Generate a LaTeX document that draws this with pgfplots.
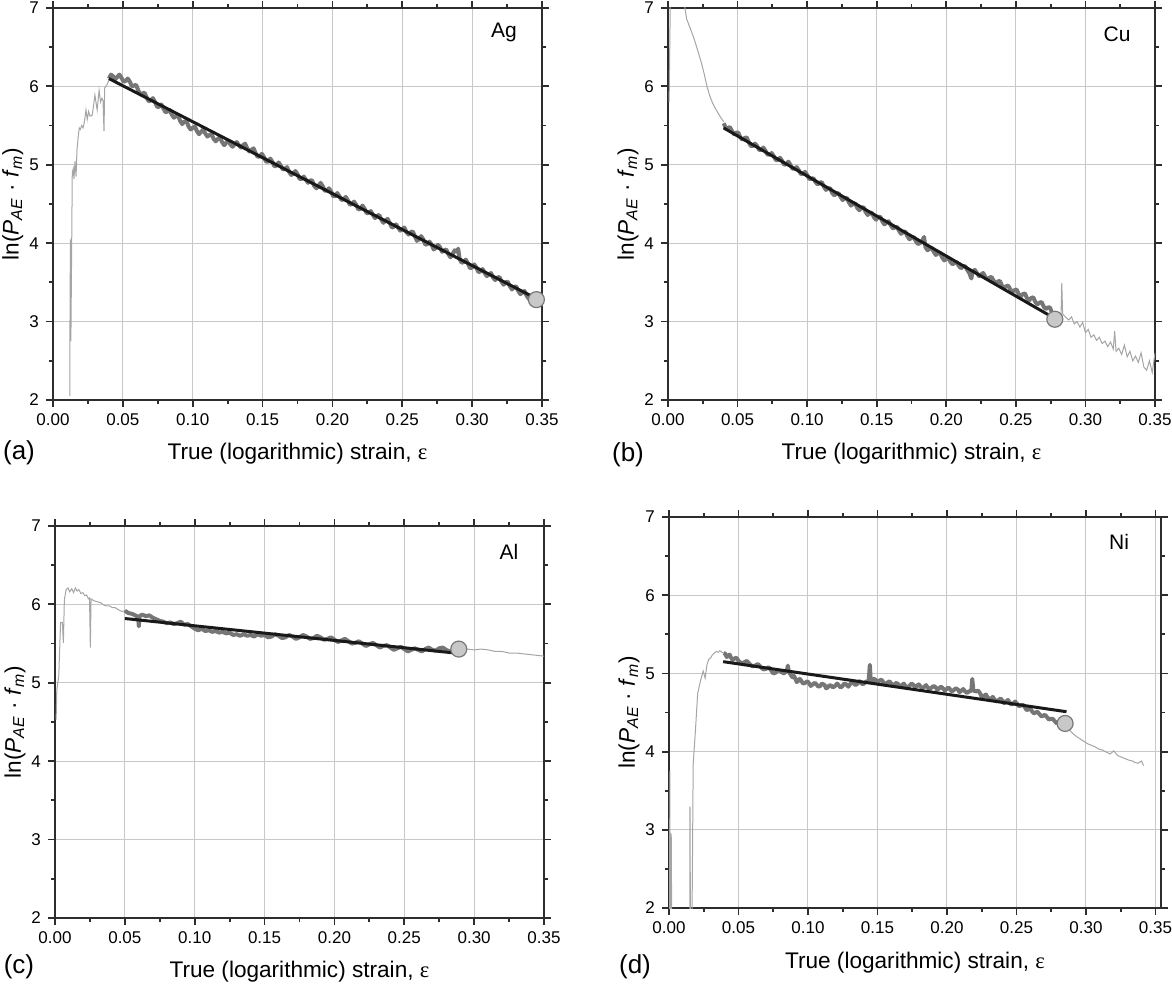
\documentclass[border=0pt]{standalone}
\usepackage{fontspec}
\setmainfont{Liberation Sans}
\newfontfamily\serifgr{Liberation Serif}
\usepackage{pgfplots}
\pgfplotsset{compat=1.18}

\definecolor{thinc}{RGB}{165,165,165}
\definecolor{thickc}{RGB}{118,118,118}
\definecolor{fitc}{RGB}{25,25,25}
\definecolor{gridc}{RGB}{200,200,200}
\definecolor{axc}{RGB}{45,45,45}
\definecolor{mfill}{RGB}{200,200,200}
\definecolor{mdraw}{RGB}{120,120,120}

\tikzset{
 letter/.style={font=\fontsize{13}{15}\selectfont},
 elem/.style={font=\fontsize{10.5}{12}\selectfont},
}

\pgfplotsset{
 panel/.style={
  scale only axis, width=244.5pt, height=196pt,
  anchor=south west,
  xmin=0, xmax=0.35, ymin=2, ymax=7,
  xtick={0,0.05,0.10,0.15,0.20,0.25,0.30,0.35}, ytick={2,3,4,5,6,7},
  minor x tick num=1, minor y tick num=1,
  tick align=outside,
  major tick length=3.5pt, minor tick length=2pt,
  grid=major, major grid style={gridc, line width=0.5pt},
  axis line style={axc, line width=0.9pt},
  every tick/.style={axc, line width=0.9pt},
  ticklabel style={font=\fontsize{8.5}{10}\selectfont},
  /pgf/number format/assume math mode=true,
  xticklabel style={/pgf/number format/.cd, fixed, fixed zerofill, precision=2},
  yticklabel style={/pgf/number format/.cd, fixed, precision=0},
  label style={font=\fontsize{11.3}{13}\selectfont},
  xlabel={True (logarithmic) strain, {\serifgr ε}},
  ylabel={ln(\textit{P}\textsubscript{\textit{AE}} · \textit{f}\textsubscript{\textit{m}})},
  xlabel style={at={(axis description cs:0.5,-0.138)}, anchor=center},
  ylabel style={at={(axis description cs:-0.082,0.5)}, anchor=center},
  clip mode=individual,
 },
 thinp/.style={thinc, line width=0.5pt},
 thickp/.style={thickc, line width=2pt, line join=round},
 fitp/.style={fitc, line width=1.5pt},
 endp/.style={only marks, mark=*, mark size=4pt, mark options={fill=mfill, draw=mdraw, line width=0.6pt}},
}

\begin{document}
\begin{tikzpicture}
\path[use as bounding box] (0,0) rectangle (586pt,492.5pt);

% ---------------- (a) Ag ----------------
\begin{axis}[panel, at={(26.5pt,292.5pt)}]
\addplot[thinp] coordinates {
(0.0120,2.05)(0.0122,3.2)(0.0125,4.05)(0.0128,2.75)(0.0132,3.6)(0.0138,4.9)(0.0145,4.95)(0.0150,4.82)
(0.0158,5.05)(0.0165,4.85)(0.0172,5.2)(0.0180,5.35)(0.0188,5.47)(0.0195,5.45)(0.0205,5.5)(0.0215,5.47)
(0.0225,5.55)(0.0236,5.7)(0.0245,5.58)(0.0255,5.68)(0.0265,5.62)(0.0280,5.63)(0.0290,5.75)(0.0300,5.89)
(0.0316,5.7)(0.0330,5.95)(0.0340,5.8)(0.0350,5.85)(0.0358,5.82)(0.0365,5.43)(0.0370,5.98)(0.0386,6.02)(0.0400,6.08)};
\addplot[thickp] coordinates {
(0.040,6.10)(0.0415,6.15)(0.043,6.13)(0.0445,6.09)(0.046,6.12)(0.0475,6.15)(0.049,6.11)(0.0505,6.06)
(0.052,6.07)(0.0535,6.10)(0.055,6.06)(0.0565,6.00)(0.058,6.01)(0.0595,6.02)(0.061,5.95)(0.0625,5.90)
(0.064,5.91)(0.0655,5.92)(0.067,5.86)(0.0685,5.81)(0.070,5.82)(0.0715,5.85)(0.073,5.80)(0.0745,5.74)
(0.076,5.74)(0.0775,5.77)(0.079,5.72)(0.0805,5.67)(0.082,5.68)(0.0835,5.70)(0.085,5.64)(0.0865,5.60)
(0.088,5.62)(0.0895,5.63)(0.091,5.56)(0.0925,5.52)(0.094,5.55)(0.0955,5.56)(0.097,5.49)(0.0985,5.45)
(0.100,5.47)(0.1015,5.49)(0.103,5.43)(0.1045,5.39)(0.106,5.42)(0.1075,5.45)(0.109,5.40)(0.1105,5.36)
(0.112,5.38)(0.1135,5.39)(0.115,5.33)(0.1165,5.30)(0.118,5.33)(0.1195,5.35)(0.121,5.29)(0.1225,5.25)
(0.124,5.28)(0.1255,5.31)(0.127,5.26)(0.1285,5.23)(0.130,5.26)(0.1315,5.29)(0.133,5.25)(0.1345,5.22)
(0.136,5.25)(0.1375,5.27)(0.139,5.21)(0.1405,5.17)(0.142,5.19)(0.1435,5.21)(0.145,5.15)(0.1465,5.10)
(0.148,5.11)(0.1495,5.14)(0.151,5.10)(0.1525,5.04)(0.154,5.04)(0.1555,5.08)(0.157,5.04)(0.1585,4.98)
(0.160,4.99)(0.1615,5.03)(0.163,4.99)(0.1645,4.94)(0.166,4.95)(0.1675,4.97)(0.169,4.91)(0.1705,4.87)
(0.172,4.89)(0.1735,4.92)(0.175,4.88)(0.1765,4.82)(0.178,4.82)(0.1795,4.85)(0.181,4.81)(0.1825,4.77)
(0.184,4.80)(0.1855,4.80)(0.187,4.73)(0.1885,4.70)(0.190,4.73)(0.1915,4.77)(0.193,4.73)(0.1945,4.67)
(0.196,4.67)(0.1975,4.70)(0.199,4.66)(0.2005,4.60)(0.202,4.60)(0.2035,4.64)(0.205,4.60)(0.2065,4.55)
(0.208,4.56)(0.2095,4.59)(0.211,4.55)(0.2125,4.49)(0.214,4.50)(0.2155,4.53)(0.217,4.49)(0.2185,4.43)
(0.220,4.44)(0.2215,4.48)(0.223,4.44)(0.2245,4.38)(0.226,4.39)(0.2275,4.41)(0.229,4.36)(0.2305,4.32)
(0.232,4.35)(0.2335,4.36)(0.235,4.30)(0.2365,4.26)(0.238,4.29)(0.2395,4.31)(0.241,4.26)(0.2425,4.20)
(0.244,4.21)(0.2455,4.24)(0.247,4.20)(0.2485,4.16)(0.250,4.18)(0.2515,4.20)(0.253,4.14)(0.2545,4.11)
(0.256,4.14)(0.2575,4.15)(0.259,4.09)(0.2605,4.03)(0.262,4.05)(0.2635,4.09)(0.265,4.05)(0.2665,3.98)
(0.268,3.99)(0.2695,4.02)(0.271,3.98)(0.2725,3.92)(0.274,3.94)(0.2755,3.98)(0.277,3.95)(0.2785,3.89)
(0.280,3.91)(0.2815,3.92)(0.283,3.86)(0.2845,3.82)(0.286,3.86)(0.2875,3.91)(0.289,3.89)(0.290,3.93)
(0.291,3.80)(0.2925,3.75)(0.294,3.76)(0.2955,3.79)(0.297,3.74)(0.2985,3.68)(0.300,3.69)(0.3015,3.73)
(0.303,3.69)(0.3045,3.63)(0.306,3.64)(0.3075,3.67)(0.309,3.62)(0.3105,3.58)(0.312,3.60)(0.3135,3.62)
(0.315,3.56)(0.3165,3.53)(0.318,3.56)(0.3195,3.57)(0.321,3.51)(0.3225,3.47)(0.324,3.50)(0.3255,3.51)
(0.327,3.45)(0.3285,3.41)(0.330,3.44)(0.3315,3.45)(0.333,3.39)(0.3345,3.35)(0.336,3.37)(0.3375,3.39)
(0.339,3.33)(0.3405,3.29)(0.342,3.31)(0.3435,3.33)(0.345,3.29)};
\addplot[fitp] coordinates {(0.040,6.10)(0.342,3.33)};
\addplot[endp] coordinates {(0.346,3.28)};
\node[elem] at (rel axis cs:1,1) [xshift=-19pt, yshift=-12pt] {Ag};
\node[letter] at (rel axis cs:0,0) [xshift=-17pt, yshift=-26.5pt] {(a)};
\end{axis}

% ---------------- (b) Cu ----------------
\begin{axis}[panel, at={(334pt,292.5pt)}, width=243.5pt]
\addplot[thinp] coordinates {
(0.0008,5.8)(0.0012,6.4)(0.0016,7.0)(0.002,7.5)(0.005,7.8)(0.009,7.4)(0.0120,7.02)(0.0134,6.86)
(0.0160,6.74)(0.0187,6.61)(0.0215,6.45)(0.0240,6.30)(0.0260,6.16)(0.0280,6.00)(0.0300,5.88)
(0.0320,5.79)(0.0340,5.72)(0.0360,5.66)(0.0380,5.60)(0.0400,5.55)};
\addplot[thickp] coordinates {
(0.040,5.53)(0.0415,5.47)(0.043,5.47)(0.0445,5.48)(0.046,5.43)(0.0475,5.39)(0.049,5.41)(0.0505,5.41)
(0.052,5.35)(0.0535,5.32)(0.055,5.34)(0.0565,5.35)(0.058,5.29)(0.0595,5.24)(0.061,5.24)(0.0625,5.27)
(0.064,5.24)(0.0655,5.19)(0.067,5.19)(0.0685,5.22)(0.070,5.18)(0.0715,5.13)(0.073,5.13)(0.0745,5.15)
(0.076,5.11)(0.0775,5.06)(0.079,5.06)(0.0805,5.09)(0.082,5.05)(0.0835,5.00)(0.085,5.01)(0.0865,5.04)
(0.088,5.00)(0.0895,4.95)(0.091,4.95)(0.0925,4.97)(0.094,4.93)(0.0955,4.88)(0.097,4.89)(0.0985,4.91)
(0.100,4.87)(0.1015,4.82)(0.103,4.82)(0.1045,4.83)(0.106,4.78)(0.1075,4.75)(0.109,4.77)(0.1105,4.78)
(0.112,4.72)(0.1135,4.68)(0.115,4.70)(0.1165,4.70)(0.118,4.64)(0.1195,4.61)(0.121,4.63)(0.1225,4.64)
(0.124,4.59)(0.1255,4.55)(0.127,4.57)(0.1285,4.58)(0.130,4.52)(0.1315,4.48)(0.133,4.50)(0.1345,4.51)
(0.136,4.45)(0.1375,4.42)(0.139,4.45)(0.1405,4.46)(0.142,4.40)(0.1435,4.36)(0.145,4.38)(0.1465,4.39)
(0.148,4.33)(0.1495,4.30)(0.151,4.33)(0.1525,4.34)(0.154,4.28)(0.1555,4.24)(0.157,4.26)(0.1585,4.28)
(0.160,4.23)(0.1615,4.19)(0.163,4.20)(0.1645,4.21)(0.166,4.16)(0.1675,4.12)(0.169,4.14)(0.1705,4.15)
(0.172,4.09)(0.1735,4.05)(0.175,4.07)(0.1765,4.08)(0.178,4.03)(0.1795,3.99)(0.181,4.00)(0.1825,4.02)
(0.184,4.08)(0.185,3.95)(0.1865,3.91)(0.188,3.93)(0.1895,3.94)(0.191,3.89)(0.1925,3.85)(0.194,3.87)
(0.1955,3.88)(0.197,3.82)(0.1985,3.78)(0.200,3.80)(0.2015,3.81)(0.203,3.76)(0.2045,3.73)(0.206,3.75)
(0.2075,3.76)(0.209,3.71)(0.2105,3.68)(0.212,3.70)(0.2135,3.71)(0.215,3.66)(0.2165,3.62)(0.218,3.55)
(0.219,3.64)(0.2205,3.66)(0.222,3.62)(0.2235,3.58)(0.225,3.60)(0.2265,3.62)(0.228,3.57)(0.2295,3.54)
(0.231,3.56)(0.2325,3.57)(0.234,3.52)(0.2355,3.49)(0.237,3.51)(0.2385,3.52)(0.240,3.46)(0.2415,3.43)
(0.243,3.45)(0.2445,3.46)(0.246,3.41)(0.2475,3.38)(0.249,3.40)(0.2505,3.41)(0.252,3.35)(0.2535,3.32)
(0.255,3.35)(0.2565,3.36)(0.258,3.30)(0.2595,3.27)(0.261,3.30)(0.2625,3.31)(0.264,3.25)(0.2655,3.22)
(0.267,3.24)(0.2685,3.25)(0.270,3.19)(0.2715,3.16)(0.273,3.18)(0.2745,3.18)(0.276,3.11)(0.278,3.04)};
\addplot[thinp] coordinates {
(0.278,3.04)(0.280,3.05)(0.2815,3.08)(0.2825,3.10)(0.2830,3.49)(0.2836,3.10)(0.2850,3.07)(0.2880,3.02)
(0.2900,3.06)(0.2920,2.97)(0.2940,3.00)(0.2960,2.93)(0.2980,2.99)(0.3000,2.86)(0.3020,2.90)(0.3040,2.80)
(0.3060,2.83)(0.3080,2.76)(0.3100,2.80)(0.3120,2.72)(0.3140,2.75)(0.3160,2.68)(0.3180,2.74)(0.3200,2.65)
(0.3210,2.88)(0.3220,2.62)(0.3240,2.66)(0.3260,2.58)(0.3280,2.70)(0.3300,2.55)(0.3320,2.62)(0.3340,2.50)
(0.3360,2.56)(0.3380,2.48)(0.3400,2.60)(0.3420,2.42)(0.3440,2.38)(0.3460,2.50)(0.3480,2.35)(0.3500,2.60)};
\addplot[fitp] coordinates {(0.040,5.47)(0.275,3.07)};
\addplot[endp] coordinates {(0.278,3.03)};
\node[elem] at (rel axis cs:1,1) [xshift=-19pt, yshift=-13pt] {Cu};
\node[letter] at (rel axis cs:0,0) [xshift=-20pt, yshift=-27.5pt] {(b)};
\end{axis}

% ---------------- (c) Al ----------------
\begin{axis}[panel, at={(27.5pt,33.5pt)}]
\addplot[thinp] coordinates {
(0.0008,4.53)(0.0013,4.91)(0.0027,5.09)(0.0040,5.77)(0.0053,5.77)(0.0060,5.51)(0.0067,6.06)(0.0080,6.19)
(0.0093,6.21)(0.0105,6.16)(0.0120,6.20)(0.0133,6.15)(0.0146,6.21)(0.0158,6.17)(0.0170,6.19)(0.0185,6.14)
(0.0200,6.15)(0.0213,6.11)(0.0226,6.12)(0.0240,6.07)(0.0247,6.08)(0.0253,5.45)(0.0258,6.07)(0.0275,6.05)
(0.0290,6.04)(0.0310,6.03)(0.0330,6.02)(0.0350,5.99)(0.0370,5.98)(0.0390,5.98)(0.0410,5.96)(0.0430,5.96)
(0.0455,5.93)(0.0480,5.91)(0.0500,5.92)};
\addplot[thickp] coordinates {
(0.050,5.92)(0.0525,5.89)(0.055,5.88)(0.0575,5.86)(0.0595,5.84)(0.060,5.72)(0.0605,5.85)(0.0625,5.87)
(0.065,5.85)(0.0675,5.86)(0.070,5.83)(0.0725,5.81)(0.075,5.79)(0.0775,5.78)(0.080,5.76)(0.0825,5.77)
(0.085,5.75)(0.0875,5.76)(0.090,5.78)(0.0925,5.74)(0.095,5.75)(0.0975,5.72)(0.100,5.69)(0.1025,5.67)
(0.105,5.69)(0.1075,5.66)(0.110,5.67)(0.1125,5.65)(0.115,5.66)(0.1175,5.64)(0.120,5.65)(0.1225,5.63)
(0.125,5.64)(0.1275,5.61)(0.130,5.62)(0.1325,5.60)(0.135,5.62)(0.1375,5.60)(0.140,5.61)(0.1425,5.59)
(0.145,5.62)(0.1475,5.60)(0.150,5.61)(0.1525,5.58)(0.155,5.59)(0.1575,5.62)(0.160,5.60)(0.1625,5.57)
(0.165,5.58)(0.1675,5.61)(0.170,5.59)(0.1725,5.56)(0.175,5.58)(0.1775,5.61)(0.180,5.59)(0.1825,5.56)
(0.185,5.57)(0.1875,5.60)(0.190,5.58)(0.1925,5.55)(0.195,5.56)(0.1975,5.58)(0.200,5.55)(0.2025,5.52)
(0.205,5.54)(0.2075,5.56)(0.210,5.53)(0.2125,5.50)(0.215,5.51)(0.2175,5.53)(0.220,5.50)(0.2225,5.47)
(0.225,5.49)(0.2275,5.51)(0.230,5.48)(0.2325,5.45)(0.235,5.47)(0.2375,5.48)(0.240,5.45)(0.2425,5.42)
(0.245,5.44)(0.2475,5.46)(0.250,5.43)(0.2525,5.40)(0.255,5.42)(0.2575,5.44)(0.260,5.42)(0.2625,5.40)
(0.265,5.43)(0.2675,5.45)(0.270,5.42)(0.2725,5.41)(0.275,5.44)(0.2775,5.45)(0.280,5.42)(0.2825,5.40)(0.285,5.41)};
\addplot[thinp] coordinates {
(0.285,5.41)(0.290,5.43)(0.295,5.43)(0.300,5.42)(0.305,5.43)(0.310,5.42)(0.315,5.40)(0.320,5.40)
(0.325,5.38)(0.330,5.38)(0.335,5.37)(0.340,5.36)(0.345,5.35)(0.350,5.34)};
\addplot[fitp] coordinates {(0.050,5.82)(0.286,5.38)};
\addplot[endp] coordinates {(0.289,5.43)};
\node[elem] at (rel axis cs:1,1) [xshift=-17.5pt, yshift=-13pt] {Al};
\node[letter] at (rel axis cs:0,0) [xshift=-18pt, yshift=-24.5pt] {(c)};
\end{axis}

% ---------------- (d) Ni ----------------
\begin{axis}[panel, at={(334.5pt,38.5pt)}, width=246pt, height=195.5pt, xmax=0.354,
  xlabel style={at={(axis description cs:0.5,-0.14)}, anchor=center},
  ylabel style={at={(axis description cs:-0.0813,0.5)}, anchor=center}]
\addplot[thinp] coordinates {
(0.0003,1.0)(0.0006,3.75)(0.0010,1.0)(0.0016,2.95)(0.0022,1.0)(0.0148,1.0)(0.0151,3.30)(0.0156,1.0)
(0.0162,1.0)(0.0174,3.84)(0.0193,4.35)(0.0206,4.74)(0.0227,4.91)(0.0246,5.03)(0.0260,4.94)(0.0273,5.11)
(0.0286,5.18)(0.0300,5.20)(0.0313,5.24)(0.0326,5.26)(0.0340,5.28)(0.0353,5.27)(0.0366,5.29)(0.0380,5.27)(0.0393,5.26)};
\addplot[thickp] coordinates {
(0.0393,5.26)(0.0406,5.25)(0.0415,5.21)(0.0425,5.22)(0.0436,5.24)(0.0447,5.20)(0.0458,5.17)(0.047,5.19)
(0.0485,5.20)(0.050,5.16)(0.052,5.13)(0.054,5.14)(0.056,5.16)(0.058,5.12)(0.060,5.09)(0.062,5.10)
(0.064,5.12)(0.066,5.08)(0.068,5.05)(0.070,5.06)(0.0718,5.08)(0.0735,5.04)(0.075,5.00)(0.0767,5.01)
(0.0785,5.04)(0.080,5.03)(0.0825,5.00)(0.0848,5.03)(0.0855,5.10)(0.0862,5.02)(0.0888,4.95)(0.0898,4.97)
(0.091,4.93)(0.0919,4.89)(0.0928,4.90)(0.094,4.93)(0.095,4.91)(0.0965,4.87)(0.0981,4.88)(0.0995,4.90)
(0.101,4.87)(0.102,4.84)(0.1035,4.86)(0.105,4.88)(0.106,4.86)(0.1075,4.83)(0.1088,4.84)(0.110,4.87)
(0.112,4.85)(0.113,4.81)(0.1142,4.82)(0.1155,4.85)(0.117,4.84)(0.118,4.82)(0.1195,4.84)(0.121,4.87)
(0.122,4.85)(0.1235,4.82)(0.1249,4.84)(0.126,4.87)(0.1275,4.86)(0.129,4.83)(0.1302,4.86)(0.1315,4.89)
(0.133,4.87)(0.1343,4.85)(0.1356,4.87)(0.137,4.90)(0.138,4.88)(0.1395,4.86)(0.1409,4.88)(0.142,4.90)
(0.1436,4.89)(0.1445,5.11)(0.1452,4.89)(0.1463,4.90)(0.1475,4.93)(0.149,4.91)(0.150,4.89)(0.1516,4.91)
(0.153,4.92)(0.154,4.89)(0.1555,4.86)(0.157,4.88)(0.1585,4.90)(0.160,4.87)(0.161,4.84)(0.1623,4.86)
(0.1637,4.88)(0.165,4.86)(0.1663,4.83)(0.1676,4.85)(0.169,4.87)(0.170,4.84)(0.1715,4.82)(0.173,4.84)
(0.1745,4.87)(0.176,4.85)(0.177,4.82)(0.1783,4.84)(0.1797,4.86)(0.181,4.83)(0.1823,4.81)(0.1837,4.83)
(0.185,4.85)(0.186,4.82)(0.1875,4.80)(0.189,4.82)(0.1905,4.84)(0.192,4.82)(0.193,4.79)(0.1944,4.81)
(0.1957,4.83)(0.197,4.81)(0.1985,4.78)(0.1997,4.80)(0.201,4.82)(0.202,4.80)(0.2035,4.77)(0.2051,4.79)
(0.2065,4.81)(0.208,4.79)(0.209,4.76)(0.2104,4.78)(0.2117,4.80)(0.213,4.77)(0.2145,4.75)(0.2158,4.77)
(0.2175,4.78)(0.2182,4.93)(0.2190,4.78)(0.2211,4.77)(0.2225,4.78)(0.224,4.74)(0.225,4.70)(0.2265,4.71)
(0.228,4.73)(0.229,4.70)(0.2305,4.67)(0.2318,4.68)(0.233,4.70)(0.234,4.67)(0.2355,4.64)(0.2372,4.66)
(0.2385,4.68)(0.240,4.65)(0.241,4.62)(0.2425,4.64)(0.2438,4.66)(0.245,4.63)(0.2465,4.60)(0.2479,4.62)
(0.249,4.64)(0.2505,4.61)(0.2518,4.58)(0.2532,4.59)(0.2545,4.60)(0.256,4.57)(0.2573,4.53)(0.2586,4.54)
(0.260,4.55)(0.261,4.52)(0.2625,4.49)(0.2639,4.50)(0.265,4.51)(0.2665,4.48)(0.268,4.45)(0.2693,4.46)
(0.2705,4.47)(0.272,4.44)(0.2733,4.41)(0.2746,4.42)(0.276,4.42)(0.2775,4.39)(0.279,4.36)(0.280,4.37)
(0.282,4.37)(0.284,4.35)};
\addplot[thinp] coordinates {
(0.284,4.35)(0.2875,4.29)(0.2906,4.23)(0.2935,4.19)(0.2960,4.16)(0.2985,4.13)(0.3013,4.10)(0.3040,4.08)
(0.3067,4.06)(0.3095,4.03)(0.3120,4.02)(0.3150,3.99)(0.3174,3.97)(0.3200,4.01)(0.3227,3.95)(0.3255,3.93)
(0.3281,3.91)(0.3310,3.89)(0.3334,3.88)(0.3355,3.86)(0.3374,3.85)(0.3400,3.88)(0.3414,3.82)};
\addplot[fitp] coordinates {(0.039,5.15)(0.286,4.51)};
\addplot[endp] coordinates {(0.285,4.36)};
\node[elem] at (rel axis cs:1,1) [xshift=-21pt, yshift=-12.5pt] {Ni};
\node[letter] at (rel axis cs:0,0) [xshift=-17pt, yshift=-29.5pt] {(d)};
\end{axis}
\end{tikzpicture}
\end{document}
